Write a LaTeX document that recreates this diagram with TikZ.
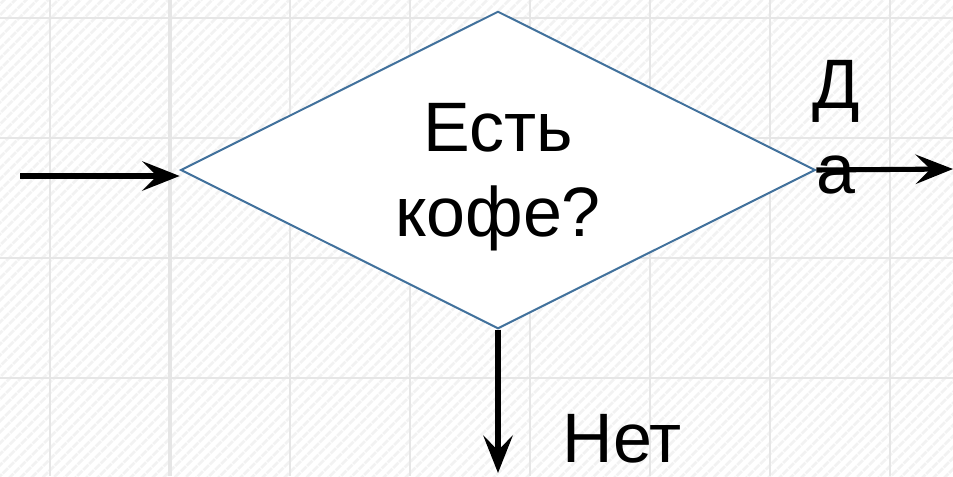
\documentclass[tikz,border=0pt]{standalone}
\usepackage{fontspec}
\setmainfont{Liberation Sans}
\usetikzlibrary{arrows.meta,shapes.geometric,patterns.meta}

\definecolor{edgeblue}{HTML}{41719C}
\definecolor{gridgray}{HTML}{E6E6E6}

\begin{document}
\begin{tikzpicture}[x=0.75pt,y=-0.75pt,>={Stealth[length=28pt,width=22pt,inset=11pt]},
                    line width=3.8pt]
  \tikzstyle{every node}=[font=\fontsize{52.5}{63.75}\selectfont,inner sep=0pt]
  \tikzstyle{decision}=[diamond,draw=edgeblue,line width=1.5pt,fill=white,
                        shape aspect=2,minimum width=476pt,minimum height=238pt,
                        align=center,text depth=0pt]
  \tikzstyle{answer}=[align=center,text depth=0pt]
  \tikzstyle{gridline}=[gridgray,line width=2.2pt]

  % background: paper with hatching and grid
  \useasboundingbox (0,0) rectangle (953,476);
  \fill[white] (0,0) rectangle (953,476);
  \fill[pattern={Lines[angle=45,distance=6.5pt,line width=2.5pt]},pattern color=black!5]
       (0,0) rectangle (953,476);
  \foreach \gx in {50,170,290,410,530,650,770,890}
    \draw[gridline] (\gx,0) -- (\gx,476);
  \draw[gridline,line width=3.5pt] (170,0) -- (170,476);
  \foreach \gy in {18,138,258,378}
    \draw[gridline] (0,\gy) -- (953,\gy);

  \node[decision]                      (dec) at (498,170) {Есть\\кофе?};
  \node[answer]                        (yes) at (836,127) {Д\\а};
  \node[anchor=base west]              (no)  at (560,462) {Нет};

  \coordinate (in)  at (20,176);
  \coordinate (out) at (953,169);
  \coordinate (down) at (498,473);

  \draw[->] (in) -- (dec.west |- in);
  \draw[->] (dec.east) -- (out);
  \draw[->] (dec.south) -- (down);
\end{tikzpicture}
\end{document}
